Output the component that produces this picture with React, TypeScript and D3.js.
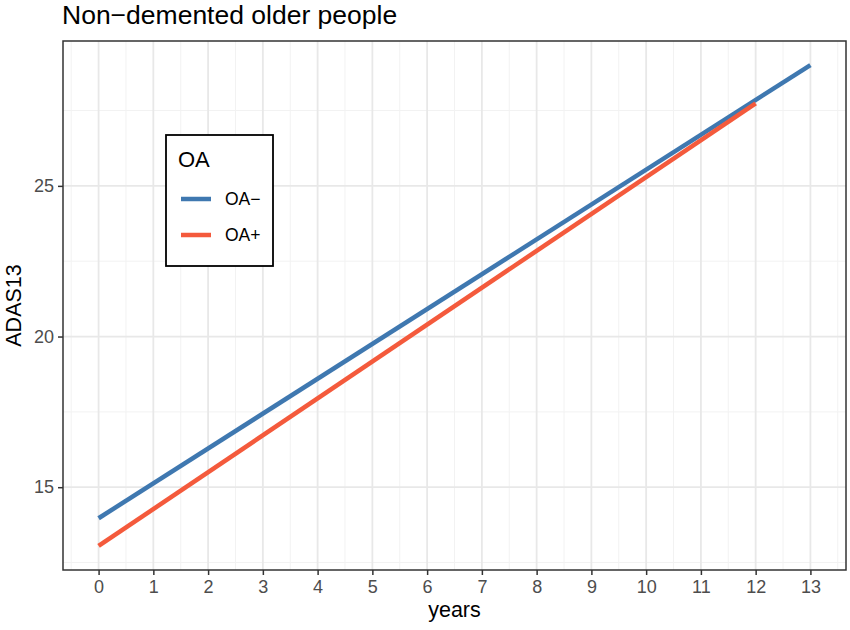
import React, { useRef, useEffect } from 'react';
import * as d3 from 'd3';

const title = "Non\u2212demented older people";
const xTicks = [0, 1, 2, 3, 4, 5, 6, 7, 8, 9, 10, 11, 12, 13];
const yTicks = [15, 20, 25];
const seriesNames = ["OA\u2212", "OA+"];
const seriesColors = ["#3f78b0", "#f45a3c"];
const oaMinusYears = [0, 13];
const oaMinusValues = [13.97, 29.01];
const oaPlusYears = [0, 12];
const oaPlusValues = [13.05, 27.74];

const width = 850;
const height = 630;

const App: React.FC = () => {
  const ref = useRef<SVGSVGElement | null>(null);

  useEffect(() => {
    if (!ref.current) return;
    const svg = d3.select(ref.current);
    svg.selectAll("*").remove();

    const margin = { top: 41, right: 4, bottom: 60, left: 63 };
    const innerW = width - margin.left - margin.right;
    const innerH = height - margin.top - margin.bottom;

    const series = [
      { name: seriesNames[0], color: seriesColors[0], pts: oaMinusYears.map((x, i) => ({ x, y: oaMinusValues[i] })) },
      { name: seriesNames[1], color: seriesColors[1], pts: oaPlusYears.map((x, i) => ({ x, y: oaPlusValues[i] })) },
    ];

    const allX = [...oaMinusYears, ...oaPlusYears];
    const allY = [...oaMinusValues, ...oaPlusValues];
    const [x0, x1] = d3.extent(allX) as [number, number];
    const [y0, y1] = d3.extent(allY) as [number, number];
    const xe = (x1 - x0) * 0.05;
    const ye = (y1 - y0) * 0.05;

    const x = d3.scaleLinear().domain([x0 - xe, x1 + xe]).range([0, innerW]);
    const y = d3.scaleLinear().domain([y0 - ye, y1 + ye]).range([innerH, 0]);

    const font = "Liberation Sans, Arial, sans-serif";

    svg.append("rect").attr("width", width).attr("height", height).attr("fill", "#fff");

    svg.append("text")
      .attr("x", margin.left - 1)
      .attr("y", 24)
      .attr("font-family", font)
      .attr("font-size", 26.5)
      .attr("fill", "#000")
      .text(title);

    const g = svg.append("g").attr("transform", `translate(${margin.left},${margin.top})`);

    // minor grid
    const xMinor = xTicks.slice(0, -1).map(v => v + 0.5).concat([xTicks[0] - 0.5, xTicks[xTicks.length - 1] + 0.5]);
    const yMinor = [12.5, 17.5, 22.5, 27.5];
    g.selectAll(".xminor").data(xMinor.filter(v => x(v) > 0 && x(v) < innerW)).enter().append("line")
      .attr("x1", d => x(d)).attr("x2", d => x(d)).attr("y1", 0).attr("y2", innerH)
      .attr("stroke", "#f2f2f2").attr("stroke-width", 1);
    g.selectAll(".yminor").data(yMinor.filter(v => y(v) > 0 && y(v) < innerH)).enter().append("line")
      .attr("y1", d => y(d)).attr("y2", d => y(d)).attr("x1", 0).attr("x2", innerW)
      .attr("stroke", "#f2f2f2").attr("stroke-width", 1);
    // major grid
    g.selectAll(".xmajor").data(xTicks).enter().append("line")
      .attr("x1", d => x(d)).attr("x2", d => x(d)).attr("y1", 0).attr("y2", innerH)
      .attr("stroke", "#e8e8e8").attr("stroke-width", 1.8);
    g.selectAll(".ymajor").data(yTicks).enter().append("line")
      .attr("y1", d => y(d)).attr("y2", d => y(d)).attr("x1", 0).attr("x2", innerW)
      .attr("stroke", "#e8e8e8").attr("stroke-width", 1.8);

    const line = d3.line<{ x: number; y: number }>().x(d => x(d.x)).y(d => y(d.y));
    series.forEach(s => {
      g.append("path")
        .attr("d", line(s.pts) || "")
        .attr("fill", "none")
        .attr("stroke", s.color)
        .attr("stroke-width", 4.5);
    });

    g.append("rect")
      .attr("width", innerW).attr("height", innerH)
      .attr("fill", "none").attr("stroke", "#333").attr("stroke-width", 1.5);

    const xAxis = g.append("g").attr("transform", `translate(0,${innerH})`)
      .call(d3.axisBottom(x).tickValues(xTicks).tickSize(5).tickPadding(5).tickFormat(d3.format("d")));
    const yAxis = g.append("g")
      .call(d3.axisLeft(y).tickValues(yTicks).tickSize(5).tickPadding(4).tickFormat(d3.format("d")));
    [xAxis, yAxis].forEach(a => {
      a.select(".domain").remove();
      a.selectAll("line").attr("stroke", "#333").attr("stroke-width", 1.5);
      a.selectAll("text").attr("fill", "#4d4d4d").attr("font-family", font).attr("font-size", 18);
    });

    svg.append("text")
      .attr("x", margin.left + innerW / 2)
      .attr("y", 617)
      .attr("text-anchor", "middle")
      .attr("font-family", font).attr("font-size", 21.5)
      .text("years");

    svg.append("text")
      .attr("transform", `translate(21,${margin.top + innerH / 2}) rotate(-90)`)
      .attr("text-anchor", "middle")
      .attr("font-family", font).attr("font-size", 21.5)
      .text("ADAS13");

    // legend
    const lg = svg.append("g").attr("transform", "translate(166,135)");
    lg.append("rect").attr("width", 107).attr("height", 131)
      .attr("fill", "#fff").attr("stroke", "#000").attr("stroke-width", 1.8);
    lg.append("text").attr("x", 12).attr("y", 32)
      .attr("font-family", font).attr("font-size", 22).text("OA");
    series.forEach((s, i) => {
      const cy = 64 + i * 36;
      lg.append("line").attr("x1", 15).attr("x2", 45).attr("y1", cy).attr("y2", cy)
        .attr("stroke", s.color).attr("stroke-width", 4.5);
      lg.append("text").attr("x", 59).attr("y", cy + 6)
        .attr("font-family", font).attr("font-size", 17.5).text(s.name);
    });
  }, []);

  return <svg ref={ref} width={width} height={height} style={{ display: 'block', position: 'absolute', left: 0, top: 0 }} />;
};

export default App;
